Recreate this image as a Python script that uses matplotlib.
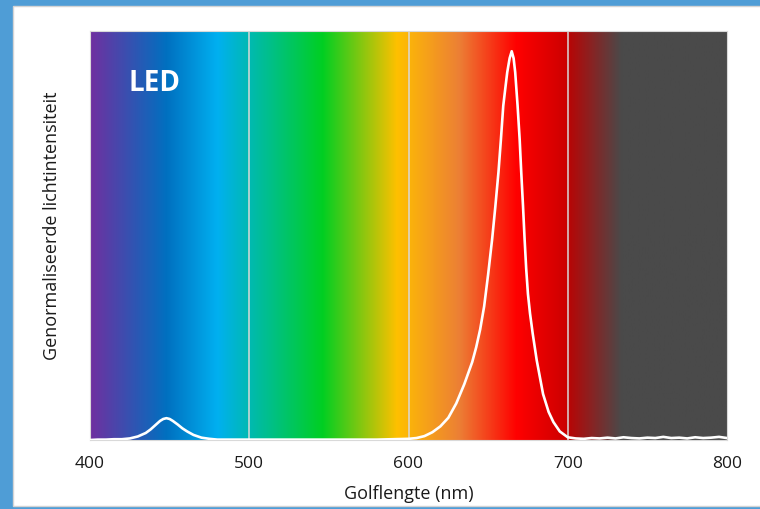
import matplotlib
matplotlib.use("Agg")
import matplotlib.pyplot as plt
import numpy as np
from matplotlib.colors import LinearSegmentedColormap
from matplotlib.patches import Rectangle

# LED spectrum (10 values per row)
wavelength = [400, 405, 410, 415, 420, 425, 430, 435, 438, 441,
              444, 446, 448, 450, 452, 455, 458, 461, 465, 470,
              475, 480, 490, 500, 510, 520, 530, 540, 550, 560,
              570, 580, 590, 600, 605, 610, 615, 620, 625, 630,
              635, 640, 642.5, 645, 647.5, 650, 652.5, 654.5, 656.5, 658,
              659.5, 661, 662, 663.5, 664.8, 666, 667, 668.5, 669.8, 670.8,
              671.9, 672.9, 673.9, 675, 676.3, 678, 680.5, 684.5, 688, 691,
              695, 700, 705, 710, 715, 720, 725, 730, 735, 740,
              745, 750, 755, 760, 765, 770, 775, 780, 785, 790,
              795, 800]
intensity = [0.000, 0.001, 0.001, 0.002, 0.002, 0.004, 0.009, 0.018, 0.027, 0.038,
             0.049, 0.054, 0.056, 0.054, 0.049, 0.040, 0.030, 0.022, 0.013, 0.006,
             0.003, 0.001, 0.001, 0.001, 0.001, 0.001, 0.001, 0.001, 0.001, 0.001,
             0.001, 0.001, 0.002, 0.003, 0.005, 0.010, 0.020, 0.035, 0.057, 0.094,
             0.143, 0.200, 0.238, 0.284, 0.343, 0.425, 0.515, 0.598, 0.688, 0.770,
             0.858, 0.910, 0.944, 0.980, 0.998, 0.980, 0.944, 0.858, 0.772, 0.687,
             0.601, 0.516, 0.440, 0.375, 0.325, 0.273, 0.205, 0.118, 0.072, 0.046,
             0.022, 0.007, 0.004, 0.003, 0.005, 0.004, 0.006, 0.004, 0.007, 0.005,
             0.004, 0.006, 0.005, 0.008, 0.005, 0.006, 0.004, 0.007, 0.005, 0.006,
             0.008, 0.005]

xticks = [400, 500, 600, 700, 800]

# spectrum background stops (fraction of 400-800 nm, colour)
spectrum_stops = [(0.0, "#7030A0"), (0.12, "#0070C0"), (0.2, "#00B0F0"),
                  (0.365, "#00CF22"), (0.482, "#FFC000"), (0.58, "#EC7F35"),
                  (0.67, "#FF0000"), (0.748, "#CC0000"), (0.755, "#B30808"),
                  (0.835, "#4A4A4A"), (1.0, "#4A4A4A")]

plt.rcParams['font.family'] = ['Open Sans', 'DejaVu Sans']

fig = plt.figure(figsize=(7.6, 5.1), dpi=100)
fig.patch.set_facecolor("#4F9DD6")
fig.patches.append(Rectangle((12.5 / 760, 3 / 510), 1.0, 500 / 510,
                             transform=fig.transFigure, facecolor="white",
                             edgecolor="#D4D4D4", linewidth=1.0, zorder=-10))

ax = fig.add_axes([90 / 760, 69 / 510, 637 / 760, 409 / 510])
cmap = LinearSegmentedColormap.from_list("spectrum", spectrum_stops, N=1024)
ax.imshow(np.linspace(0, 1, 1024).reshape(1, -1), cmap=cmap, aspect="auto",
          extent=[400, 800, 0, 1.05], zorder=0)

for g in xticks[1:-1]:
    ax.axvline(g, color="#D9D9D9", linewidth=1.1, zorder=1)

ax.plot(wavelength, intensity, color="white", linewidth=1.9, zorder=3,
        solid_joinstyle="round")

ax.text(424, 0.919, "LED", color="white", fontsize=20, fontweight="bold",
        va="center", ha="left", zorder=4)

ax.set_xlim(400, 800)
ax.set_ylim(0, 1.05)
ax.set_xticks(xticks)
ax.set_yticks([])
ax.tick_params(axis="x", length=0, pad=11, labelsize=12.5, colors="#1A1A1A")
for s in ax.spines.values():
    s.set_color("#D9D9D9")
    s.set_linewidth(0.8)

ax.set_xlabel("Golflengte (nm)", fontsize=13, color="#1A1A1A")
ax.xaxis.set_label_coords(0.5, -0.13)
ax.xaxis.label.set_va("center")
ax.set_ylabel("Genormaliseerde lichtintensiteit", fontsize=13, color="#1A1A1A")
ax.yaxis.set_label_coords(-0.06, 0.527)
ax.yaxis.label.set_va("center")

fig.savefig("out.png", dpi=100, facecolor=fig.get_facecolor())
